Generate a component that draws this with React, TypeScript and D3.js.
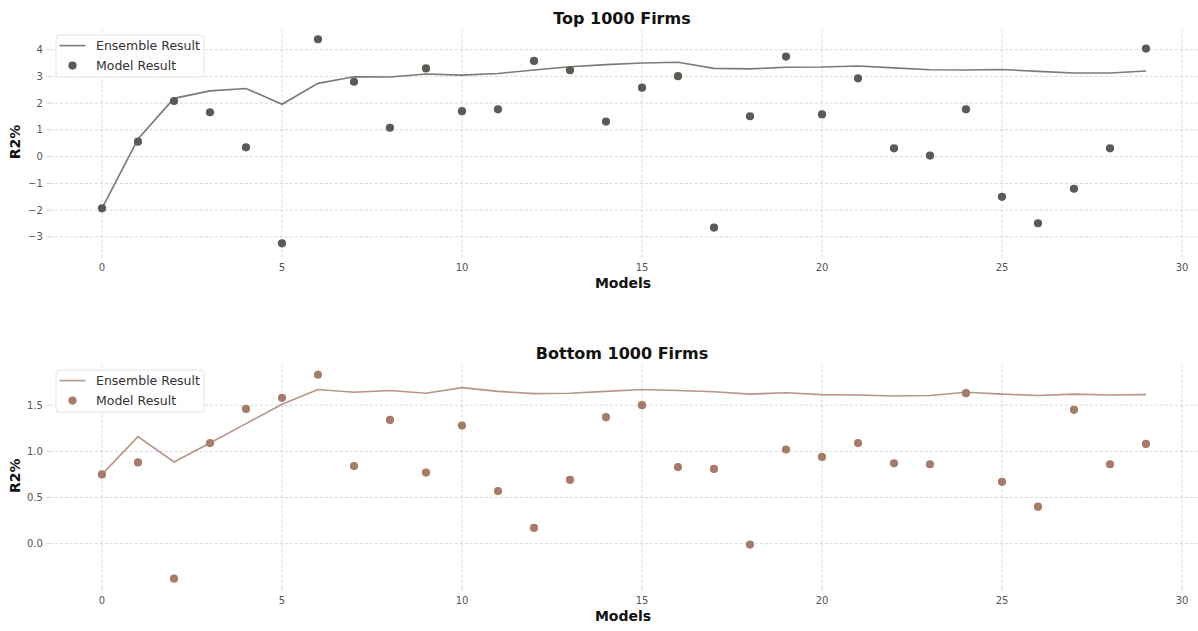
import React from "react";
import * as d3 from "d3";

// Model index 0..29
const models: number[] = Array.from({ length: 30 }, (_, i) => i);

// Top 1000 firms: individual model R2% and running ensemble R2%
const topModel: number[] = [
  -1.93, 0.56, 2.08, 1.66, 0.35, -3.24, 4.39, 2.8, 1.08, 3.3,
  1.7, 1.77, 3.58, 3.23, 1.31, 2.58, 3.01, -2.65, 1.51, 3.74,
  1.58, 2.93, 0.31, 0.04, 1.77, -1.5, -2.49, -1.2, 0.31, 4.04,
];
const topEnsemble: number[] = [
  -1.93, 0.66, 2.18, 2.46, 2.55, 1.96, 2.74, 2.99, 2.98, 3.09,
  3.05, 3.11, 3.24, 3.36, 3.44, 3.5, 3.53, 3.3, 3.28, 3.34,
  3.35, 3.39, 3.32, 3.25, 3.24, 3.26, 3.19, 3.13, 3.13, 3.2,
];

// Bottom 1000 firms
const bottomModel: number[] = [
  0.75, 0.88, -0.38, 1.09, 1.46, 1.58, 1.83, 0.84, 1.34, 0.77,
  1.28, 0.57, 0.17, 0.69, 1.37, 1.5, 0.83, 0.81, -0.01, 1.02,
  0.94, 1.09, 0.87, 0.86, 1.63, 0.67, 0.4, 1.45, 0.86, 1.08,
];
const bottomEnsemble: number[] = [
  0.75, 1.16, 0.885, 1.09, 1.3, 1.51, 1.67, 1.64, 1.66, 1.63,
  1.69, 1.65, 1.625, 1.63, 1.65, 1.67, 1.66, 1.645, 1.62, 1.635,
  1.615, 1.61, 1.6, 1.605, 1.64, 1.62, 1.605, 1.62, 1.61, 1.615,
];

const xTicks: number[] = [0, 5, 10, 15, 20, 25, 30];
const topYTicks: number[] = [-3, -2, -1, 0, 1, 2, 3, 4];
const bottomYTicks: number[] = [0, 0.5, 1, 1.5];

const FONT = "'DejaVu Sans', sans-serif";
const GRID = "#cfcfcf";

type PanelProps = {
  title: string;
  model: number[];
  ensemble: number[];
  yDomain: [number, number];
  yRange: [number, number];
  yTicks: number[];
  yFormat: (v: number) => string;
  color: string;
};

const W = 1198;
const H = 631;

function Panel({ title, model, ensemble, yDomain, yRange, yTicks, yFormat, color }: PanelProps) {
  const x = d3.scaleLinear().domain([-1.45, 30.45]).range([49.8, 1198.2]);
  const y = d3.scaleLinear().domain(yDomain).range(yRange);
  const [bottom, top] = yRange;
  const left = x.range()[0];
  const right = x.range()[1];
  const line = d3
    .line<number>()
    .x((_, i) => x(models[i]))
    .y((d) => y(d));
  const minus = (s: string) => s.replace("-", "\u2212");
  const legendTop = top + 5.5;
  const legendLeft = 56;

  return (
    <g>
      <text
        x={(left + right) / 2 - 2}
        y={top - 5.8}
        textAnchor="middle"
        fontFamily={FONT}
        fontWeight="bold"
        fontSize={16}
        fill="#111"
      >
        {title}
      </text>

      {/* grid */}
      {xTicks.map((t) => (
        <line
          key={"gx" + t}
          x1={x(t)}
          x2={x(t)}
          y1={top}
          y2={bottom}
          stroke={GRID}
          strokeWidth={0.8}
          strokeDasharray="3,2"
        />
      ))}
      {yTicks.map((t) => (
        <line
          key={"gy" + t}
          x1={left}
          x2={right}
          y1={y(t)}
          y2={y(t)}
          stroke={GRID}
          strokeWidth={0.8}
          strokeDasharray="3,2"
        />
      ))}

      {/* ticks and labels */}
      {xTicks.map((t) => (
        <g key={"tx" + t}>
          <line x1={x(t)} x2={x(t)} y1={bottom} y2={bottom + 3.5} stroke={GRID} strokeWidth={0.8} />
          <text
            x={x(t)}
            y={bottom + 16.5}
            textAnchor="middle"
            fontFamily={FONT}
            fontSize={10}
            fill="#555"
          >
            {t}
          </text>
        </g>
      ))}
      {yTicks.map((t) => (
        <g key={"ty" + t}>
          <line x1={left - 3.5} x2={left} y1={y(t)} y2={y(t)} stroke={GRID} strokeWidth={0.8} />
          <text
            x={left - 7}
            y={y(t)}
            dy="0.35em"
            textAnchor="end"
            fontFamily={FONT}
            fontSize={10}
            fill="#555"
          >
            {minus(yFormat(t))}
          </text>
        </g>
      ))}

      {/* axis labels */}
      <text
        x={(left + right) / 2 - 1}
        y={bottom + 34}
        textAnchor="middle"
        fontFamily={FONT}
        fontWeight="bold"
        fontSize={14}
        fill="#111"
      >
        Models
      </text>
      <text
        transform={`translate(20,${(top + bottom) / 2}) rotate(-90)`}
        textAnchor="middle"
        fontFamily={FONT}
        fontWeight="bold"
        fontSize={14}
        fill="#111"
      >
        R2%
      </text>

      {/* ensemble line */}
      <path d={line(ensemble) || ""} fill="none" stroke={color} strokeOpacity={0.8} strokeWidth={1.6} />

      {/* model points */}
      {model.map((v, i) => (
        <circle key={"p" + i} cx={x(models[i])} cy={y(v)} r={4.1} fill={color} />
      ))}

      {/* legend */}
      <rect
        x={legendLeft}
        y={legendTop}
        width={148}
        height={42}
        rx={3}
        fill="white"
        fillOpacity={0.8}
        stroke="#dddddd"
        strokeWidth={0.8}
      />
      <line
        x1={legendLeft + 3.5}
        x2={legendLeft + 29.5}
        y1={legendTop + 10.5}
        y2={legendTop + 10.5}
        stroke={color}
        strokeOpacity={0.8}
        strokeWidth={1.6}
      />
      <text
        x={legendLeft + 40}
        y={legendTop + 10.5}
        dy="0.35em"
        fontFamily={FONT}
        fontSize={12.5}
        fill="#333"
      >
        Ensemble Result
      </text>
      <circle cx={legendLeft + 16.5} cy={legendTop + 30.5} r={4.1} fill={color} />
      <text
        x={legendLeft + 40}
        y={legendTop + 30.5}
        dy="0.35em"
        fontFamily={FONT}
        fontSize={12.5}
        fill="#333"
      >
        Model Result
      </text>
    </g>
  );
}

export default function App() {
  return (
    <svg
      width={W}
      height={H}
      style={{ position: "absolute", left: 0, top: 0, background: "white" }}
    >
      <Panel
        title="Top 1000 Firms"
        model={topModel}
        ensemble={topEnsemble}
        yDomain={[-3.65, 4.75]}
        yRange={[254.3, 29.6]}
        yTicks={topYTicks}
        yFormat={(v) => d3.format("d")(v)}
        color="#5d5954"
      />
      <Panel
        title="Bottom 1000 Firms"
        model={bottomModel}
        ensemble={bottomEnsemble}
        yDomain={[-0.47, 1.94]}
        yRange={[587, 364.6]}
        yTicks={bottomYTicks}
        yFormat={(v) => d3.format(".1f")(v)}
        color="#a67b67"
      />
    </svg>
  );
}
